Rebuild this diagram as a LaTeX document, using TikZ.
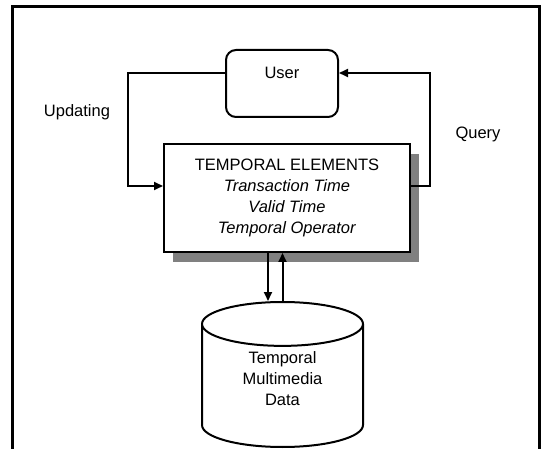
\documentclass[tikz,border=0pt]{standalone}
\usepackage{fontspec}
\setmainfont{Liberation Sans}
\usetikzlibrary{arrows.meta,positioning,shapes,shadows}

\begin{document}
\begin{tikzpicture}[x=1pt,y=-1pt,node distance=48pt,
    every node/.style={font=\fontsize{16.5}{21}\selectfont},
    box/.style={draw,line width=2pt,align=center,inner sep=0pt,fill=white},
    link/.style={line width=2pt,-{Triangle[length=9pt,width=8pt]}}]
  \useasboundingbox (0,0) rectangle (541,449);
  % 枠
  \draw[line width=3pt] (12,449) -- (12,7) -- (539.5,7) -- (539.5,449);

  % ノード
  \node (tem) [box, minimum width=246pt, minimum height=108pt,
    drop shadow={shadow xshift=9pt, shadow yshift=-10pt, fill=black!50, opacity=1}]
    at (287,198) {TEMPORAL ELEMENTS\\ \textit{Transaction Time}\\ \textit{Valid Time}\\ \textit{Temporal Operator}};
  \node (user) [box, rounded corners=10pt, minimum width=112pt, minimum height=67pt,
    above=25pt of tem, xshift=-5pt] {User\\ \mbox{}};
  \node (db) [cylinder, shape border rotate=90, aspect=0.55, box,
    minimum width=161pt, minimum height=145pt, below=48pt of tem, xshift=-4.5pt]
    {Temporal\\Multimedia\\Data\\[-7pt]\mbox{}};
  \node (upd) at (77,112) {Updating};
  \node (qry) at (478,134) {Query};

  % 矢印
  \draw[link] ([yshift=-24pt]user.north west) -- ++(-97pt,0) |- ([yshift=-43pt]tem.north west);
  \draw[link] ([yshift=-43pt]tem.north east) -- ++(19pt,0) |- ([yshift=-24pt]user.north east);
  \draw[link] ([xshift=-19pt]tem.south) -- ([xshift=-19pt]tem.south |- db.north);
  \draw[link] (db.north) -- (db.north |- tem.south);
\end{tikzpicture}
\end{document}
